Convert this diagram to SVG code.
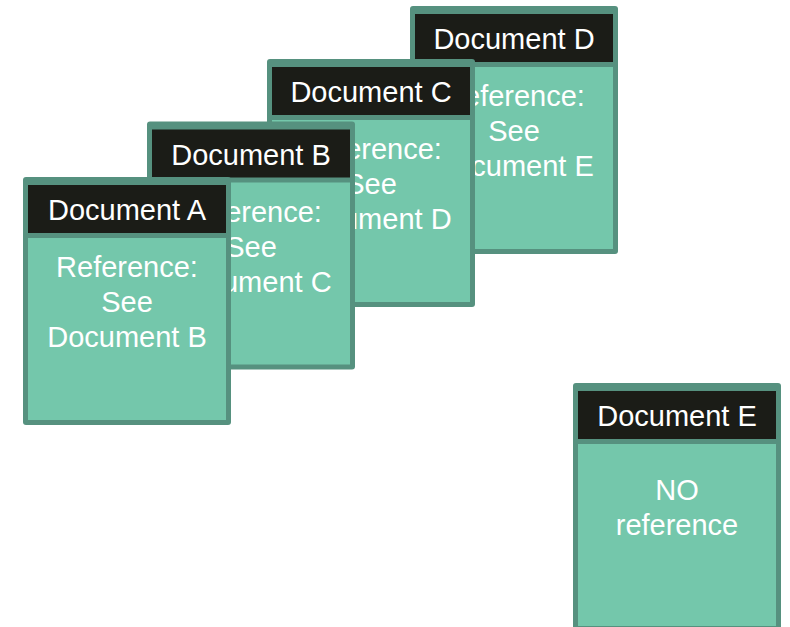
<svg xmlns="http://www.w3.org/2000/svg" width="790" height="627" viewBox="0 0 790 627">
<style>
.frame{fill:#56917f}
.head{fill:#1b1c17}
.body{fill:#74c7ab}
text{font-family:"Liberation Sans",Arial,sans-serif;font-size:29px;fill:#ffffff;text-anchor:middle}
</style>
<rect width="790" height="627" fill="#ffffff"/>
<g id="connectors"></g>
<g id="docD" transform="translate(410,6)">
<rect class="frame" x="0" y="0" width="208" height="248" rx="3"/>
<rect class="head" x="5" y="8" width="198" height="48"/>
<rect class="body" x="5" y="61" width="198" height="182"/>
<text x="104" y="43">Document D</text>
<text x="104" y="100">Reference:</text>
<text x="104" y="135">See</text>
<text x="104" y="170">Document E</text>
</g>
<g id="docC" transform="translate(267,59)">
<rect class="frame" x="0" y="0" width="208" height="248" rx="3"/>
<rect class="head" x="5" y="8" width="198" height="48"/>
<rect class="body" x="5" y="61" width="198" height="182"/>
<text x="104" y="43">Document C</text>
<text x="104" y="100">Reference:</text>
<text x="104" y="135">See</text>
<text x="104" y="170">Document D</text>
</g>
<g id="docB" transform="translate(147,121.5)">
<rect class="frame" x="0" y="0" width="208" height="248" rx="3"/>
<rect class="head" x="5" y="8" width="198" height="48"/>
<rect class="body" x="5" y="61" width="198" height="182"/>
<text x="104" y="43">Document B</text>
<text x="104" y="100">Reference:</text>
<text x="104" y="135">See</text>
<text x="104" y="170">Document C</text>
</g>
<g id="docA" transform="translate(23,177)">
<rect class="frame" x="0" y="0" width="208" height="248" rx="3"/>
<rect class="head" x="5" y="8" width="198" height="48"/>
<rect class="body" x="5" y="61" width="198" height="182"/>
<text x="104" y="43">Document A</text>
<text x="104" y="100">Reference:</text>
<text x="104" y="135">See</text>
<text x="104" y="170">Document B</text>
</g>
<g id="docE" transform="translate(573,383)">
<rect class="frame" x="0" y="0" width="208" height="248" rx="3"/>
<rect class="head" x="5" y="8" width="198" height="48"/>
<rect class="body" x="5" y="61" width="198" height="182"/>
<text x="104" y="43">Document E</text>
<text x="104" y="117">NO</text>
<text x="104" y="152">reference</text>
</g>
</svg>
